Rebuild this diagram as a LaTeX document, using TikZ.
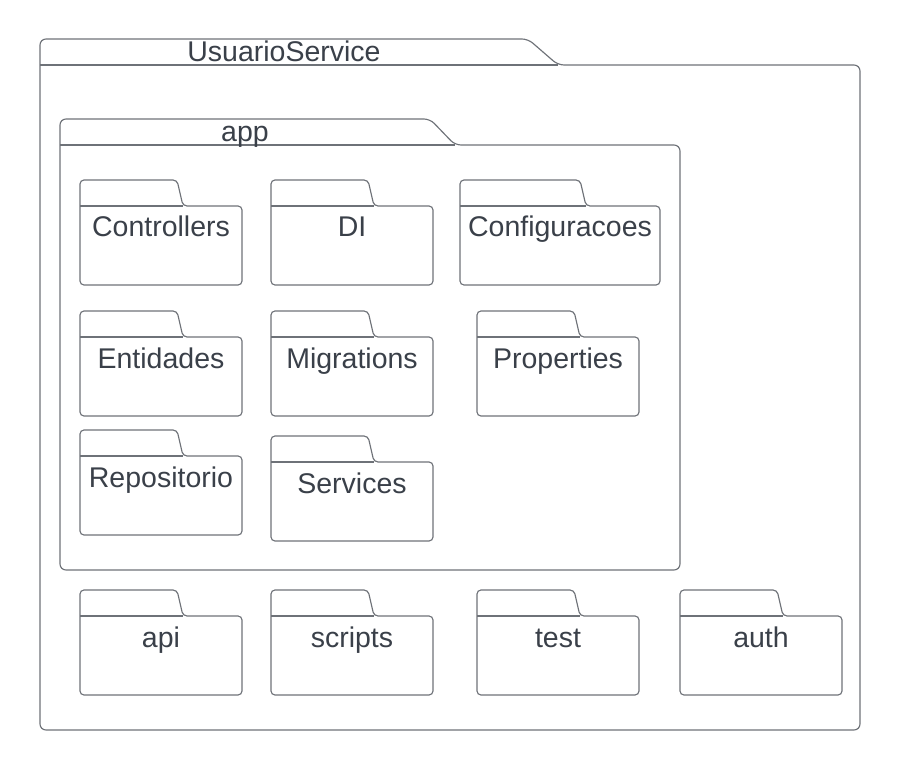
\documentclass[tikz,border=0pt]{standalone}
\usepackage{fontspec}
\setmainfont{Liberation Sans}
\usepackage{tikz}

\definecolor{linha}{HTML}{6E7278}
\definecolor{texto}{HTML}{3A4049}

% pasta: nome, x, y (topo da aba), largura, largura da aba, texto
\newcommand{\pasta}[6]{%
  \draw[pacote] (#2,#3+26) -- (#2,#3) -- (#2+#5,#3) -- (#2+#5+6,#3+26)
    -- (#2+#4,#3+26) -- (#2+#4,#3+105) -- (#2,#3+105) -- cycle;
  \draw[pacote] (#2,#3+26) -- (#2+#5+6,#3+26);
  \node[rotulo] (#1) at (#2+#4/2,#3+57) {#6};
}

\begin{document}
\begin{tikzpicture}[x=1pt,y=-1pt,
    pacote/.style={draw=linha,line width=1.15pt,rounded corners=4pt},
    rotulo/.style={text=texto,font=\fontsize{28.5}{30}\selectfont,anchor=base,inner sep=0pt}]
  \useasboundingbox (0,0) rectangle (900,770);

  % UsuarioService
  \draw[pacote,rounded corners=6pt] (40,65) -- (40,39) -- (528,39) -- (558,65)
    -- (860,65) -- (860,730) -- (40,730) -- cycle;
  \draw[pacote] (40,65) -- (558,65);
  \node[rotulo] (usuarioservice) at (284,62) {UsuarioService};

  % app
  \draw[pacote,rounded corners=6pt] (60,145) -- (60,119) -- (430,119) -- (455,145)
    -- (680,145) -- (680,570) -- (60,570) -- cycle;
  \draw[pacote] (60,145) -- (455,145);
  \node[rotulo] (app) at (245,142) {app};

  \pasta{controllers}{80}{180}{162}{97}{Controllers}
  \pasta{di}{271}{180}{162}{97}{DI}
  \pasta{configuracoes}{460}{180}{200}{120}{Configuracoes}

  \pasta{entidades}{80}{311}{162}{97}{Entidades}
  \pasta{migrations}{271}{311}{162}{97}{Migrations}
  \pasta{properties}{477}{311}{162}{97}{Properties}

  \pasta{repositorio}{80}{430}{162}{97}{Repositorio}
  \pasta{services}{271}{436}{162}{97}{Services}

  \pasta{api}{80}{590}{162}{97}{api}
  \pasta{scripts}{271}{590}{162}{97}{scripts}
  \pasta{test}{477}{590}{162}{97}{test}
  \pasta{auth}{680}{590}{162}{97}{auth}
\end{tikzpicture}
\end{document}
